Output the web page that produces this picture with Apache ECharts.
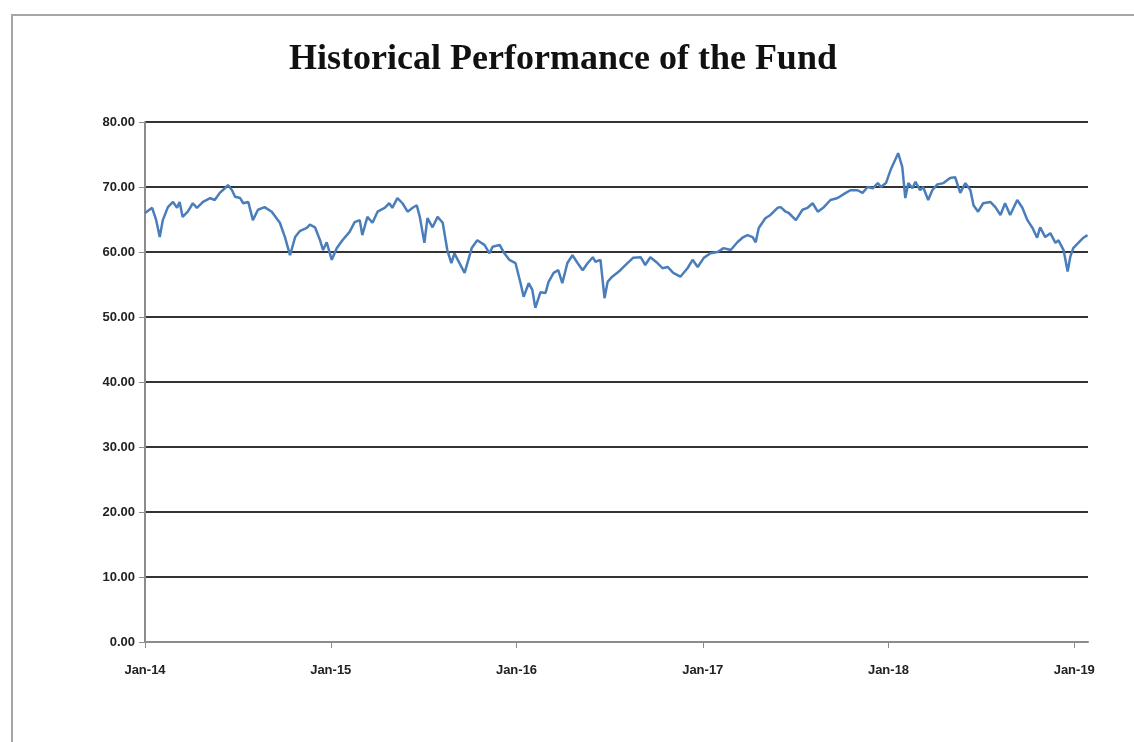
<!DOCTYPE html>
<html>
<head>
<meta charset="utf-8">
<title>Historical Performance of the Fund</title>
<script src="https://cdn.jsdelivr.net/npm/echarts@6/dist/echarts.min.js"></script>
<style>
  html, body { margin: 0; padding: 0; background: #fff; }
  #chart { width: 1134px; height: 742px; }
</style>
</head>
<body>
<div id="chart"></div>
<script>
// values
var dates = [
  '2014-01-01','2014-01-15','2014-01-23','2014-01-30','2014-02-05','2014-02-15','2014-02-25','2014-03-05',
  '2014-03-10','2014-03-16','2014-03-26','2014-04-05','2014-04-13','2014-04-25','2014-05-09','2014-05-18',
  '2014-05-28','2014-06-07','2014-06-13','2014-06-21','2014-06-27','2014-07-07','2014-07-13','2014-07-23',
  '2014-08-01','2014-08-11','2014-08-24','2014-09-07','2014-09-23','2014-10-03','2014-10-13','2014-10-23',
  '2014-11-01','2014-11-15','2014-11-21','2014-12-01','2014-12-11','2014-12-17','2014-12-24',
  '2015-01-03','2015-01-13','2015-01-24','2015-02-07','2015-02-17','2015-02-27','2015-03-04','2015-03-14',
  '2015-03-24','2015-04-03','2015-04-17','2015-04-26','2015-05-02','2015-05-12','2015-05-22','2015-06-01',
  '2015-06-11','2015-06-19','2015-06-25','2015-07-04','2015-07-10','2015-07-20','2015-07-30','2015-08-09',
  '2015-08-18','2015-08-26','2015-09-01','2015-09-11','2015-09-21','2015-10-05','2015-10-16','2015-10-30',
  '2015-11-09','2015-11-15','2015-11-29','2015-12-08','2015-12-18','2015-12-30',
  '2016-01-09','2016-01-15','2016-01-25','2016-02-01','2016-02-07','2016-02-17','2016-02-27','2016-03-04',
  '2016-03-14','2016-03-23','2016-03-31','2016-04-10','2016-04-20','2016-04-30','2016-05-10','2016-05-20',
  '2016-05-30','2016-06-04','2016-06-14','2016-06-22','2016-06-28','2016-07-07','2016-07-17','2016-07-23',
  '2016-08-06','2016-08-17','2016-09-01','2016-09-10','2016-09-20','2016-10-04','2016-10-14','2016-10-24',
  '2016-11-04','2016-11-18','2016-12-02','2016-12-12','2016-12-22',
  '2017-01-03','2017-01-16','2017-01-30','2017-02-11','2017-02-25','2017-03-10','2017-03-20','2017-03-30',
  '2017-04-09','2017-04-15','2017-04-21','2017-04-28','2017-05-04','2017-05-14','2017-05-28','2017-06-03',
  '2017-06-13','2017-06-19','2017-07-03','2017-07-16','2017-07-26','2017-08-05','2017-08-15','2017-08-27',
  '2017-09-09','2017-09-23','2017-10-09','2017-10-18','2017-11-01','2017-11-11','2017-11-21','2017-12-01',
  '2017-12-11','2017-12-17','2017-12-27',
  '2018-01-05','2018-01-20','2018-01-28','2018-02-03','2018-02-09','2018-02-17','2018-02-23','2018-03-04',
  '2018-03-10','2018-03-20','2018-03-28','2018-04-07','2018-04-19','2018-05-02','2018-05-12','2018-05-22',
  '2018-06-01','2018-06-11','2018-06-17','2018-06-26','2018-07-06','2018-07-20','2018-07-30','2018-08-09',
  '2018-08-18','2018-08-28','2018-09-11','2018-09-21','2018-10-01','2018-10-11','2018-10-20','2018-10-26',
  '2018-11-05','2018-11-15','2018-11-25','2018-12-01','2018-12-11','2018-12-19','2018-12-24','2018-12-30',
  '2019-01-09','2019-01-19','2019-01-27'
];

var navValues = [
  66.0, 66.8, 64.9, 62.3, 64.9, 66.9, 67.7, 66.8,
  67.7, 65.4, 66.2, 67.5, 66.8, 67.7, 68.3, 68.0,
  69.1, 69.8, 70.3, 69.5, 68.5, 68.3, 67.5, 67.7,
  64.9, 66.5, 66.9, 66.2, 64.5, 62.3, 59.5, 62.3,
  63.2, 63.7, 64.2, 63.8, 61.8, 60.3, 61.5,
  58.8, 60.6, 61.8, 63.1, 64.6, 64.9, 62.6, 65.4,
  64.5, 66.2, 66.8, 67.5, 66.8, 68.3, 67.5, 66.2,
  66.8, 67.2, 65.4, 61.4, 65.2, 63.8, 65.4, 64.5,
  60.3, 58.3, 59.8, 58.3, 56.8, 60.6, 61.8, 61.1,
  59.8, 60.8, 61.1, 59.8, 58.8, 58.3,
  55.2, 53.1, 55.2, 54.2, 51.4, 53.8, 53.7, 55.4,
  56.8, 57.2, 55.2, 58.3, 59.5, 58.3, 57.2, 58.3,
  59.2, 58.5, 58.8, 52.9, 55.4, 56.2, 56.8, 57.2,
  58.3, 59.1, 59.2, 58.0, 59.2, 58.3, 57.5, 57.7,
  56.8, 56.2, 57.5, 58.8, 57.7,
  59.1, 59.8, 60.0, 60.6, 60.3, 61.5, 62.2, 62.6,
  62.3, 61.5, 63.7, 64.5, 65.2, 65.7, 66.8, 66.9,
  66.2, 66.0, 64.9, 66.5, 66.8, 67.5, 66.2, 66.9,
  68.0, 68.3, 69.1, 69.5, 69.5, 69.1, 70.0, 69.8,
  70.6, 70.0, 70.6,
  72.6, 75.2, 73.1, 68.3, 70.6, 69.8, 70.8, 69.5,
  70.0, 68.0, 69.5, 70.4, 70.6, 71.4, 71.5, 69.1,
  70.6, 69.5, 67.2, 66.2, 67.5, 67.7, 66.9, 65.7,
  67.5, 65.7, 68.0, 66.8, 64.9, 63.7, 62.2, 63.8,
  62.3, 62.9, 61.4, 61.8, 60.3, 57.0, 59.2, 60.6,
  61.4, 62.2, 62.6
];

var yTicks = [0, 80, 10];          // min, max, step
var xRange = ['2014-01-01', '2019-01-28'];
var chartTitle = 'Historical Performance of the Fund';

var myChart = echarts.init(document.getElementById('chart'), null, { renderer: 'canvas' });

var seriesData = [];
for (var i = 0; i < dates.length; i++) {
    seriesData.push([dates[i], navValues[i]]);
}

var option = {
    backgroundColor: '#fff',
    animation: false,
    title: {
        text: chartTitle,
        left: 558,
        top: 37,
        textAlign: 'center',
        textStyle: {
            fontFamily: '"Liberation Serif", "DejaVu Serif", serif',
            fontWeight: 'bold',
            fontSize: 36,
            color: '#111'
        }
    },
    graphic: [{
        // outer frame of the pasted picture
        type: 'rect',
        shape: { x: 12, y: 15, width: 1200, height: 800 },
        style: { fill: 'none', stroke: '#a6a6a6', lineWidth: 2 },
        silent: true
    }],
    grid: {
        left: 145,
        right: 46,
        top: 122,
        bottom: 100
    },
    xAxis: {
        type: 'time',
        min: xRange[0],
        max: xRange[1],
        minInterval: 365 * 24 * 3600 * 1000,
        splitLine: { show: false },
        axisLine: { lineStyle: { color: '#8c8c8c', width: 2 } },
        axisTick: { show: true, length: 6, lineStyle: { color: '#8c8c8c', width: 1 } },
        minorTick: { show: false },
        axisLabel: {
            margin: 22,
            color: '#222',
            fontFamily: '"Liberation Sans", Arial, sans-serif',
            fontWeight: 'bold',
            fontSize: 13,
            showMinLabel: true,
            formatter: function (v) {
                var d = new Date(v);
                if (d.getMonth() !== 0) return '';
                return 'Jan-' + String(d.getFullYear()).slice(2);
            }
        }
    },
    yAxis: {
        type: 'value',
        min: yTicks[0],
        max: yTicks[1],
        interval: yTicks[2],
        axisLine: { show: true, lineStyle: { color: '#8c8c8c', width: 2 } },
        axisTick: { show: true, length: 6, lineStyle: { color: '#8c8c8c' } },
        splitLine: {
            show: true,
            lineStyle: {
                color: ['#8c8c8c', '#333', '#333', '#333', '#333', '#333', '#333', '#333', '#333'],
                width: 2
            }
        },
        axisLabel: {
            margin: 10,
            color: '#222',
            fontFamily: '"Liberation Sans", Arial, sans-serif',
            fontWeight: 'bold',
            fontSize: 13,
            formatter: function (v) {
                return v.toFixed(2);
            }
        }
    },
    series: [{
        name: 'Fund',
        type: 'line',
        data: seriesData,
        showSymbol: false,
        symbol: 'none',
        lineStyle: { color: '#4a7ebb', width: 2.5 },
        itemStyle: { color: '#4a7ebb' }
    }]
};

myChart.setOption(option);
</script>
</body>
</html>
